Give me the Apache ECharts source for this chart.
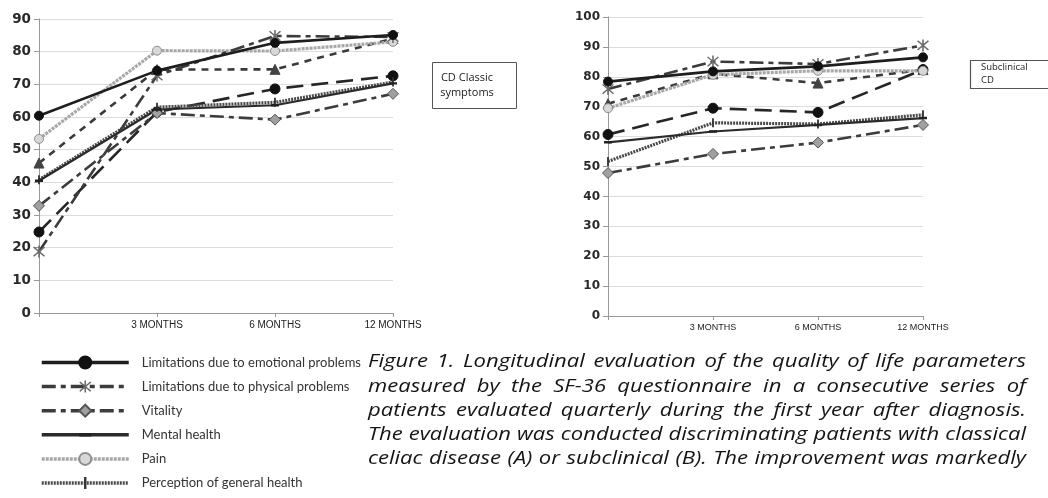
<!DOCTYPE html>
<html><head><meta charset="utf-8">
<script src="https://cdn.jsdelivr.net/npm/echarts@6/dist/echarts.min.js"></script>
<style>html,body{margin:0;padding:0;background:#fff}#c{width:1048px;height:498px}</style>
</head><body><div id="c"></div>
<script>
// ---------- data ----------
const categories = ['', '3 MONTHS', '6 MONTHS', '12 MONTHS'];
const legendNames = [
  'Limitations due to emotional problems',
  'Limitations due to physical problems',
  'Vitality',
  'Mental health',
  'Pain',
  'Perception of general health'
];
const extraNames = ['Physical functioning', 'Social functioning'];

// Chart A: CD classic symptoms
const classicEmotional = [60.4, 74.2, 82.7, 85.1];
const classicPhysical  = [18.8, 72.7, 84.8, 84.5];
const classicVitality  = [32.8, 61.2, 59.2, 67.1];
const classicMental    = [40.5, 62.3, 63.6, 70.3];
const classicPain      = [53.3, 80.3, 80.2, 83.0];
const classicGeneral   = [40.8, 63.0, 64.5, 70.7];
const classicPhysFunc  = [45.9, 74.5, 74.6, 84.0];
const classicSocial    = [24.8, 61.5, 68.6, 72.6];

// Chart B: subclinical CD
const subEmotional = [78.4, 81.8, 83.5, 86.5];
const subPhysical  = [75.9, 85.1, 84.3, 90.5];
const subVitality  = [47.8, 54.2, 58.0, 63.9];
const subMental    = [58.1, 61.7, 63.9, 66.2];
const subPain      = [69.5, 80.7, 82.0, 82.0];
const subGeneral   = [51.7, 64.6, 64.2, 67.3];
const subPhysFunc  = [71.0, 81.0, 77.9, 82.4];
const subSocial    = [60.7, 69.5, 68.1, 82.4];

const classicAxisMax = 90;
const subAxisMax = 100;
const tickStep = 10;

const boxClassicText = 'CD Classic\nsymptoms';
const boxSubText = 'Subclinical\nCD';

const captionLines = [
  'Figure 1. Longitudinal evaluation of the quality of life parameters',
  'measured by the SF-36 questionnaire in a consecutive series of',
  'patients evaluated quarterly during the first year after diagnosis.',
  'The evaluation was conducted discriminating patients with classical',
  'celiac disease (A) or subclinical (B). The improvement was markedly'
];

// ---------- styles ----------
const asterisk = 'path://M9,1L11,1L11,19L9,19Z M3.7,2.3L17.7,16.3L16.3,17.7L2.3,3.7Z M16.3,2.3L17.7,3.7L3.7,17.7L2.3,16.3Z';
const tick = 'path://M4,0L6,0L6,10L4,10Z M0,5L0.01,5Z M10,5L10.01,5Z';
const dash = 'path://M0,3.5L10,3.5L10,6.5L0,6.5Z M5,0L5.01,0Z M5,10L5.01,10Z';
const styles = {
  emotional: {color:'#1e1e1e', width:2.6, type:'solid', symbol:'circle', size:9, fill:'#111', border:'#111', bw:1},
  physical:  {color:'#3c3c3c', width:2.6, type:[14,5,5,5], symbol:asterisk, size:12, fill:'#6a6a6a', border:'#6a6a6a', bw:0},
  vitality:  {color:'#3c3c3c', width:2.6, type:[14,5,5,5], symbol:'diamond', size:11, fill:'#a0a0a0', border:'#555', bw:1},
  mental:    {color:'#2b2b2b', width:2.2, type:'solid', symbol:dash, size:8, fill:'#222', border:'#222', bw:0},
  pain:      {color:'#a8a8a8', width:3.2, type:[3,1], symbol:'circle', size:9, fill:'#d8d8d8', border:'#8f8f8f', bw:1},
  general:   {color:'#4a4a4a', width:3.2, type:[2,1], symbol:tick, size:9, fill:'#333', border:'#333', bw:0},
  physFunc:  {color:'#3a3a3a', width:2.6, type:[7,6], symbol:'triangle', size:10, fill:'#444', border:'#444', bw:1},
  social:    {color:'#262626', width:2.6, type:[17,8], symbol:'circle', size:10, fill:'#111', border:'#111', bw:1}
};
const keys = ['physFunc','social','vitality','general','mental','pain','physical','emotional'];
const names = {
  emotional: legendNames[0], physical: legendNames[1], vitality: legendNames[2],
  mental: legendNames[3], pain: legendNames[4], general: legendNames[5],
  physFunc: extraNames[0], social: extraNames[1]
};
const classicData = {emotional:classicEmotional, physical:classicPhysical, vitality:classicVitality,
  mental:classicMental, pain:classicPain, general:classicGeneral, physFunc:classicPhysFunc, social:classicSocial};
const subData = {emotional:subEmotional, physical:subPhysical, vitality:subVitality,
  mental:subMental, pain:subPain, general:subGeneral, physFunc:subPhysFunc, social:subSocial};

function makeSeries(key, data, idx){
  const s = styles[key];
  return {
    type:'line', name:names[key], xAxisIndex:idx, yAxisIndex:idx, data:data,
    symbol:s.symbol, symbolSize:s.size, showAllSymbol:true, animation:false,
    lineStyle:{color:s.color, width:s.width, type:s.type},
    itemStyle:{color:s.fill, borderColor:s.border, borderWidth:s.bw},
    emphasis:{disabled:true}
  };
}
const series = [];
keys.forEach(k => series.push(makeSeries(k, classicData[k], 0)));
keys.forEach(k => series.push(makeSeries(k, subData[k], 1)));

function yAxis(idx, max, fs){
  return {
    type:'value', gridIndex:idx, min:0, max:max, interval:tickStep,
    axisLine:{show:true, lineStyle:{color:'#999', width:1}},
    axisTick:{show:true, length:5, lineStyle:{color:'#999'}},
    splitLine:{show:true, lineStyle:{color:'#dcdcdc', width:1}},
    axisLabel:{fontFamily:'DejaVu Sans', fontWeight:'bold', fontSize:fs, color:'#2a2a2a', margin:8}
  };
}
function xAxis(idx, fs){
  return {
    type:'category', gridIndex:idx, data:categories, boundaryGap:false,
    axisLine:{show:true, lineStyle:{color:'#999', width:1}},
    axisTick:{show:true, length:4, lineStyle:{color:'#999'}},
    splitLine:{show:false},
    axisLabel:{fontFamily:'Liberation Sans', fontSize:fs, color:'#222', margin:7, interval:0}
  };
}

// ---------- caption (justified, word by word, horizontally fitted) ----------
function captionGraphics(){
  const ctx = document.createElement('canvas').getContext('2d');
  const family = 'Open Sans';
  const fs = 18;
  const left = 368, right = 1026, W = right - left;
  const base0 = 367.7, step = 24.1, minGap = 6;
  ctx.font = 'italic ' + fs + 'px "' + family + '"';
  const lineWords = captionLines.map(l => l.split(' '));
  const lineWidths = lineWords.map(ws => ws.map(w => ctx.measureText(w).width));
  let sx = Math.min.apply(null, lineWidths.map((ws, i) =>
    (W - (ws.length - 1) * minGap) / ws.reduce((a,b)=>a+b, 0)));
  sx = Math.max(0.8, Math.min(1.3, sx));
  const els = [];
  lineWords.forEach((words, i) => {
    const ws = lineWidths[i].map(w => w * sx);
    const total = ws.reduce((a,b)=>a+b, 0);
    const gap = (W - total) / (words.length - 1);
    let x = left;
    const y = base0 + i * step - 0.3 * fs;
    words.forEach((w, j) => {
      els.push({type:'text', x:x, y:y, scaleX:sx, silent:true,
        style:{text:w, fontFamily:family, fontStyle:'italic', fontSize:fs, fill:'#151515',
               align:'left', verticalAlign:'middle'}});
      x += ws[j] + gap;
    });
  });
  return els;
}

const graphics = [
  {type:'rect', shape:{x:432.5, y:62.5, width:84, height:46}, style:{fill:'#fff', stroke:'#555', lineWidth:1}, silent:true},
  {type:'text', x:467, y:85, silent:true, style:{text:boxClassicText, fontFamily:'Open Sans', fontSize:11, lineHeight:15, fill:'#222', align:'center', verticalAlign:'middle'}},
  {type:'rect', shape:{x:970.5, y:60.5, width:90, height:28}, style:{fill:'#fff', stroke:'#555', lineWidth:1.2}, silent:true},
  {type:'text', x:981, y:74, silent:true, style:{text:boxSubText, fontFamily:'Open Sans', fontSize:9.5, lineHeight:12.5, fill:'#222', align:'left', verticalAlign:'middle'}}
].concat(captionGraphics());

const chart = echarts.init(document.getElementById('c'), null, {renderer:'canvas'});
chart.setOption({
  backgroundColor:'#fff',
  animation:false,
  grid:[
    {left:39, right:655, top:19, bottom:185},
    {left:608, right:125, top:17, bottom:182}
  ],
  xAxis:[xAxis(0, 10), xAxis(1, 9)],
  yAxis:[yAxis(0, classicAxisMax, 13.5), yAxis(1, subAxisMax, 12)],
  legend:{
    data:legendNames, orient:'vertical', left:40, top:355, padding:0,
    itemWidth:87, itemHeight:15, itemGap:9.1, selectedMode:false,
    lineStyle:{width:3.5},
    textStyle:{fontFamily:'Lato', fontSize:13, color:'#333', lineHeight:15, padding:[0,0,0,8]}
  },
  series:series,
  graphic:graphics
});
</script>
</body></html>
